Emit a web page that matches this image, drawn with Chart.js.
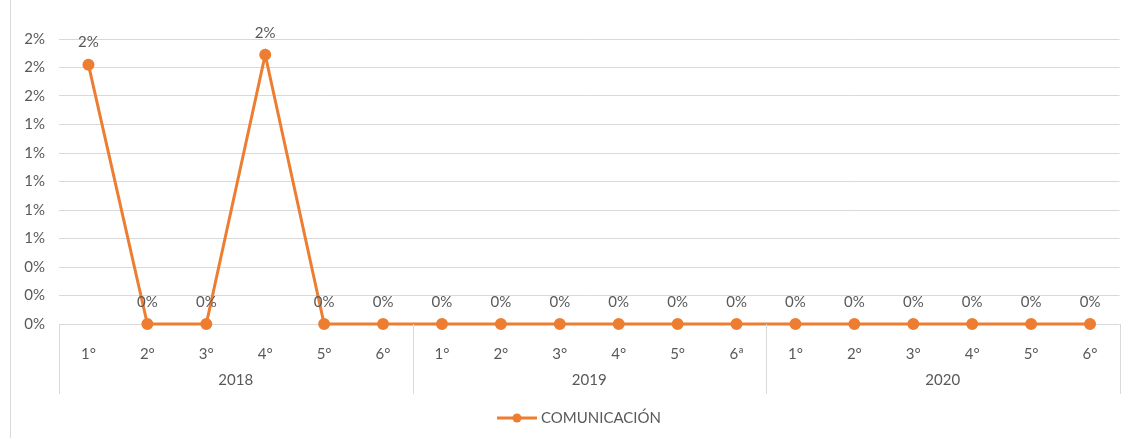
<!DOCTYPE html>
<html lang="es">
<head>
<meta charset="UTF-8">
<title>Comunicación</title>
<script src="https://cdn.jsdelivr.net/npm/chart.js"></script>
<style>
  html, body { margin: 0; padding: 0; background: #fff; }
  #wrap { width: 1127px; height: 438px; }
</style>
</head>
<body>
<div id="wrap"><canvas id="grafico" width="1127" height="438"></canvas></div>

<script>
// datos por semestre
const anios = ['2018', '2019', '2020'];
const periodos = [
  '1°', '2°', '3°', '4°', '5°', '6°',
  '1°', '2°', '3°', '4°', '5°', '6ª',
  '1°', '2°', '3°', '4°', '5°', '6°'
];
const comunicacion = [
  0.0182, 0, 0, 0.0189, 0, 0,
  0, 0, 0, 0, 0, 0,
  0, 0, 0, 0, 0, 0
];
const serieNombre = 'COMUNICACIÓN';

const naranja = '#ED7D31';
const gris = '#595959';
const rejilla = '#D9D9D9';
const fuente = 'Lato, Calibri, sans-serif';
const tam = 15;

function pct(v) { return Math.round(v * 100) + '%'; }

// etiquetas encima de cada punto
const etiquetasDatos = {
  id: 'etiquetasDatos',
  afterDatasetsDraw(chart) {
    const ctx = chart.ctx;
    const meta = chart.getDatasetMeta(0);
    ctx.save();
    ctx.font = tam + 'px ' + fuente;
    ctx.fillStyle = gris;
    ctx.textAlign = 'center';
    ctx.textBaseline = 'middle';
    meta.data.forEach((p, i) => {
      ctx.fillText(pct(comunicacion[i]), p.x, p.y - 22);
    });
    ctx.restore();
  }
};

// años agrupados debajo del eje, separadores y leyenda
const grupos = {
  id: 'grupos',
  afterDraw(chart) {
    const ctx = chart.ctx;
    const area = chart.chartArea;
    const ancho = (area.right - area.left) / periodos.length;
    const porAnio = periodos.length / anios.length;
    ctx.save();

    // marco izquierdo
    ctx.strokeStyle = rejilla;
    ctx.lineWidth = 1;
    ctx.beginPath();
    ctx.moveTo(10.5, 0);
    ctx.lineTo(10.5, chart.height);
    ctx.stroke();

    for (let g = 0; g <= anios.length; g++) {
      const x = Math.round(area.left + g * porAnio * ancho) + 0.5;
      ctx.beginPath();
      ctx.moveTo(x, area.bottom);
      ctx.lineTo(x, area.bottom + 70);
      ctx.stroke();
    }

    ctx.font = tam + 'px ' + fuente;
    ctx.fillStyle = gris;
    ctx.textAlign = 'center';
    ctx.textBaseline = 'middle';
    anios.forEach((a, g) => {
      const x = area.left + (g + 0.5) * porAnio * ancho;
      ctx.fillText(a, x, area.bottom + 56);
    });

    // leyenda
    const ly = 418;
    ctx.strokeStyle = naranja;
    ctx.lineWidth = 3;
    ctx.beginPath();
    ctx.moveTo(497, ly);
    ctx.lineTo(537, ly);
    ctx.stroke();
    ctx.fillStyle = naranja;
    ctx.beginPath();
    ctx.arc(517, ly, 4.5, 0, Math.PI * 2);
    ctx.fill();
    ctx.fillStyle = gris;
    ctx.textAlign = 'left';
    ctx.fillText(serieNombre, 541, ly);

    ctx.restore();
  }
};

new Chart(document.getElementById('grafico'), {
  type: 'line',
  data: {
    labels: periodos,
    datasets: [{
      label: serieNombre,
      data: comunicacion,
      borderColor: naranja,
      backgroundColor: naranja,
      borderWidth: 3,
      pointRadius: 4.5,
      pointHoverRadius: 4.5,
      tension: 0,
      clip: false
    }]
  },
  options: {
    responsive: false,
    animation: false,
    events: [],
    layout: { padding: { left: 0, top: 39, right: 7, bottom: 44 } },
    plugins: {
      legend: { display: false },
      tooltip: { enabled: false }
    },
    scales: {
      x: {
        offset: true,
        grid: { display: false, offset: true },
        border: { display: false },
        ticks: {
          color: gris,
          font: { family: fuente, size: tam },
          padding: 13,
          autoSkip: false,
          maxRotation: 0
        },
        afterFit(scale) { scale.height = 70; }
      },
      y: {
        min: 0,
        max: 0.02,
        grid: { color: rejilla, drawTicks: false },
        border: { display: false },
        ticks: {
          stepSize: 0.002,
          color: gris,
          font: { family: fuente, size: tam },
          padding: 14,
          callback: v => pct(v)
        },
        afterFit(scale) { scale.width = 59; }
      }
    }
  },
  plugins: [etiquetasDatos, grupos]
});
</script>
</body>
</html>
